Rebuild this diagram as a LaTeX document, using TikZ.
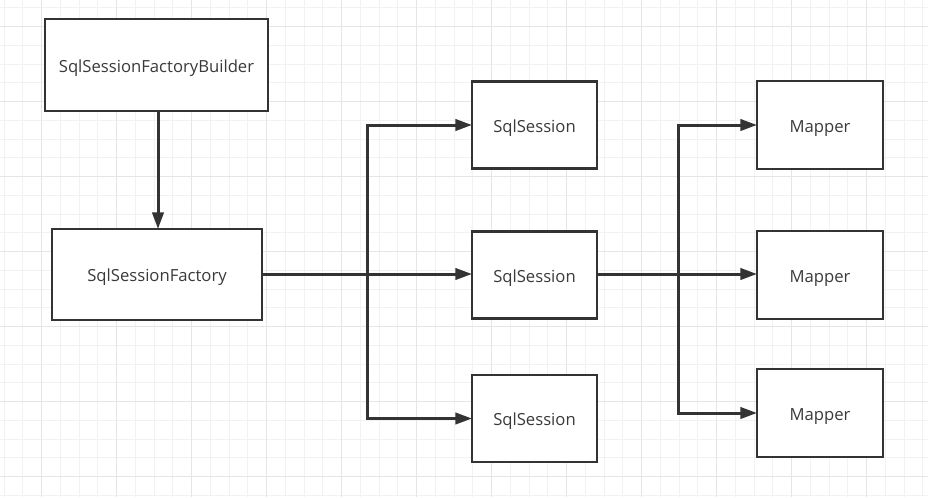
\documentclass[tikz,border=0pt]{standalone}
\usepackage{fontspec}
\setmainfont{Open Sans}
\usetikzlibrary{arrows.meta}
\definecolor{trait}{HTML}{333333}
\definecolor{texte}{HTML}{3A3A3A}
\definecolor{grillefine}{HTML}{F2F2F2}
\definecolor{grilleforte}{HTML}{E5E5E5}
\begin{document}
\begin{tikzpicture}[x=0.75pt,y=-0.75pt]
	% Styles (MODIFIABLES)
	\tikzstyle{fleche}=[-{Triangle[length=12.5pt,width=8.5pt]},line width=2.25pt,draw=trait]
	\tikzstyle{boite}=[draw=trait,line width=2.2pt,fill=white,inner sep=0pt,outer sep=0pt,text=texte,font=\fontsize{12.5}{14}\selectfont,text height=11pt,text depth=0pt]
	\tikzstyle{session}=[boite,minimum width=125*0.75pt,minimum height=87*0.75pt]
	\tikzstyle{mapper}=[boite,minimum width=126*0.75pt,minimum height=88*0.75pt]
	% Dimensions (MODIFIABLES)
	\def\Largeur{928}
	\def\Hauteur{497}
	\def\ColonneA{157}
	\def\ColonneB{534.5}
	\def\ColonneC{820}
	% Fond et grille
	\fill[white] (0,0) rectangle (\Largeur,\Hauteur);
	\begin{scope}
		\clip (0,0) rectangle (\Largeur,\Hauteur);
		\foreach \i in {0,...,49} {
			\draw[grillefine,line width=0.75pt] ({4.2+18.75*\i},0) -- ({4.2+18.75*\i},\Hauteur);
		}
		\foreach \j in {0,...,26} {
			\draw[grillefine,line width=0.75pt] (0,{7.95+18.75*\j}) -- (\Largeur,{7.95+18.75*\j});
		}
		\foreach \i in {0,...,12} {
			\draw[grilleforte,line width=0.75pt] ({41.7+75*\i},0) -- ({41.7+75*\i},\Hauteur);
		}
		\foreach \j in {0,...,6} {
			\draw[grilleforte,line width=0.75pt] (0,{26.7+75*\j}) -- (\Largeur,{26.7+75*\j});
		}
	\end{scope}
	% Noeuds (MODIFIABLES)
	\node[boite,minimum width=223*0.75pt,minimum height=92*0.75pt] (builder) at (156.5,65) {SqlSessionFactoryBuilder};
	\node[boite,minimum width=210*0.75pt,minimum height=91*0.75pt] (factory) at (\ColonneA,274.5) {SqlSessionFactory};
	\node[session] (session1) at (\ColonneB,125) {SqlSession};
	\node[session] (session2) at (\ColonneB,275) {SqlSession};
	\node[session] (session3) at (\ColonneB,418.5) {SqlSession};
	\node[mapper] (mapper1) at (\ColonneC,125) {Mapper};
	\node[mapper] (mapper2) at (\ColonneC,275) {Mapper};
	\node[mapper] (mapper3) at (\ColonneC,413) {Mapper};
	\coordinate (jonctionA) at (367,274);
	\coordinate (jonctionB) at (678,274);
	% Arcs (MODIFIABLES : Styles)
	\draw[fleche] (builder.south -| 158,0) -- (158,0 |- factory.north);
	\draw[fleche] (factory.east |- jonctionA) -- (session2.west |- jonctionA);
	\draw[fleche] (factory.east |- jonctionA) -- (jonctionA) |- (session1.west);
	\draw[fleche] (factory.east |- jonctionA) -- (jonctionA) |- (session3.west);
	\draw[fleche] (session2.east |- jonctionB) -- (mapper2.west |- jonctionB);
	\draw[fleche] (session2.east |- jonctionB) -- (jonctionB) |- (mapper1.west);
	\draw[fleche] (session2.east |- jonctionB) -- (jonctionB) |- (mapper3.west);
\end{tikzpicture}
\end{document}
